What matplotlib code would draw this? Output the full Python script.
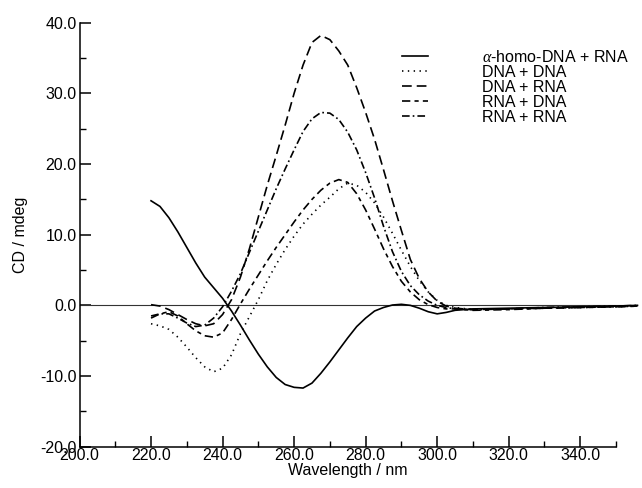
import matplotlib
matplotlib.use("Agg")
import matplotlib.pyplot as plt
from matplotlib.ticker import MultipleLocator, FixedLocator, FormatStrFormatter

plt.rcParams['font.family'] = ['Liberation Sans', 'DejaVu Sans']
plt.rcParams['mathtext.fontset'] = 'custom'
plt.rcParams['mathtext.it'] = 'Liberation Serif:italic'
plt.rcParams['lines.scale_dashes'] = False

wl = [220, 222.5, 225, 227.5, 230, 232.5, 235, 237.5, 240, 242.5, 245, 247.5,
      250, 252.5, 255, 257.5, 260, 262.5, 265, 267.5, 270, 272.5, 275, 277.5,
      280, 282.5, 285, 287.5, 290, 292.5, 295, 297.5, 300, 302.5, 305,
      310, 320, 330, 340, 350, 356]

alpha_homo_dna_rna = [14.8, 14.0, 12.4, 10.4, 8.2, 6.0, 4.0, 2.5, 1.0, -0.8, -2.8, -4.9,
                      -6.9, -8.7, -10.2, -11.2, -11.6, -11.7, -11.0, -9.6, -8.0, -6.3, -4.6, -3.0,
                      -1.8, -0.8, -0.3, 0.05, 0.15, 0.0, -0.4, -0.9, -1.2, -1.0, -0.7,
                      -0.5, -0.4, -0.3, -0.2, -0.1, 0.0]

dna_dna = [-2.6, -2.9, -3.4, -4.5, -5.9, -7.4, -8.7, -9.4, -8.9, -7.0, -4.0, -1.6,
           0.8, 3.5, 5.8, 7.9, 9.8, 11.5, 12.9, 14.2, 15.3, 16.5, 17.3, 17.0,
           16.0, 14.5, 12.5, 10.2, 7.8, 5.5, 3.5, 1.9, 0.7, 0.0, -0.3,
           -0.6, -0.5, -0.4, -0.3, -0.2, -0.1]

dna_rna = [0.1, -0.1, -0.6, -1.3, -2.0, -2.6, -2.9, -2.6, -1.3, 0.8, 4.0, 8.0,
           12.5, 17.0, 21.2, 25.5, 30.0, 34.0, 37.2, 38.2, 37.6, 36.0, 34.0, 30.8,
           27.3, 23.5, 19.2, 14.8, 10.6, 6.5, 3.8, 1.9, 0.6, -0.1, -0.4,
           -0.6, -0.5, -0.4, -0.3, -0.2, -0.1]

rna_dna = [-1.8, -1.2, -0.9, -1.5, -2.6, -3.6, -4.3, -4.5, -3.9, -2.0, 0.2, 2.3,
           4.3, 6.3, 8.2, 10.0, 11.8, 13.5, 15.0, 16.3, 17.3, 17.8, 17.4, 15.8,
           13.5, 10.8, 8.0, 5.5, 3.4, 1.9, 0.8, 0.1, -0.3, -0.5, -0.5,
           -0.7, -0.6, -0.4, -0.3, -0.2, -0.1]

rna_rna = [-1.5, -1.2, -1.2, -1.8, -2.5, -3.0, -2.8, -1.8, -0.2, 2.0, 4.5, 7.5,
           10.5, 13.5, 16.5, 19.3, 22.0, 24.6, 26.4, 27.3, 27.2, 26.3, 24.5, 22.0,
           18.8, 15.2, 11.2, 7.6, 4.8, 2.8, 1.5, 0.6, 0.0, -0.3, -0.5,
           -0.6, -0.5, -0.3, -0.2, -0.1, 0.0]

labels = [r'$\alpha$-homo-DNA + RNA', 'DNA + DNA', 'DNA + RNA', 'RNA + DNA', 'RNA + RNA']
series = [alpha_homo_dna_rna, dna_dna, dna_rna, rna_dna, rna_rna]
styles = [None, (0, (1.0, 3.2)), (0, (7.0, 3.6)), (0, (6.0, 3.0, 3.0, 3.0)), (0, (5.5, 2.2, 1.2, 2.2))]

fig = plt.figure(figsize=(6.42, 4.88), dpi=100)
ax = fig.add_axes([79.5/642, 1-446.7/488, (616-79.5)/642, (446.7-22.7)/488])

ax.axhline(0, color='#333333', lw=0.8, xmin=0, xmax=(637-79.5)/(616-79.5), clip_on=False)

for y, lab, st in zip(series, labels, styles):
    if st is None:
        ax.plot(wl, y, color='black', lw=1.2, label=lab, clip_on=False)
    else:
        ax.plot(wl, y, color='black', lw=1.2, linestyle=st, label=lab, clip_on=False)

ax.set_xlim(200, 350)
ax.set_ylim(-20, 40)
for s in ['top', 'right']:
    ax.spines[s].set_visible(False)
for s in ['left', 'bottom']:
    ax.spines[s].set_linewidth(1.1)

ax.xaxis.set_major_locator(FixedLocator([200, 220, 240, 260, 280, 300, 320, 340]))
ax.xaxis.set_minor_locator(FixedLocator([210, 230, 250, 270, 290, 310, 330, 350]))
ax.yaxis.set_major_locator(MultipleLocator(10))
ax.yaxis.set_minor_locator(MultipleLocator(5))
ax.xaxis.set_major_formatter(FormatStrFormatter('%.1f'))
ax.yaxis.set_major_formatter(FormatStrFormatter('%.1f'))
ax.tick_params(which='major', direction='in', length=8, width=1.1, labelsize=11.5, pad=2)
ax.tick_params(which='minor', direction='in', length=4, width=1.0)
ax.tick_params(axis='x', which='major', pad=1)

ax.set_xlabel('Wavelength / nm', fontsize=11.5, labelpad=0)
ax.set_ylabel('CD / mdeg', fontsize=11.5, labelpad=9)

ax.legend(loc='upper left', bbox_to_anchor=(401.7/642, 1-49/488), bbox_transform=fig.transFigure,
          frameon=False, fontsize=11.5, handlelength=1.65, handletextpad=3.4,
          labelspacing=0.0, borderpad=0, borderaxespad=0)

fig.savefig('out.png', dpi=100)
